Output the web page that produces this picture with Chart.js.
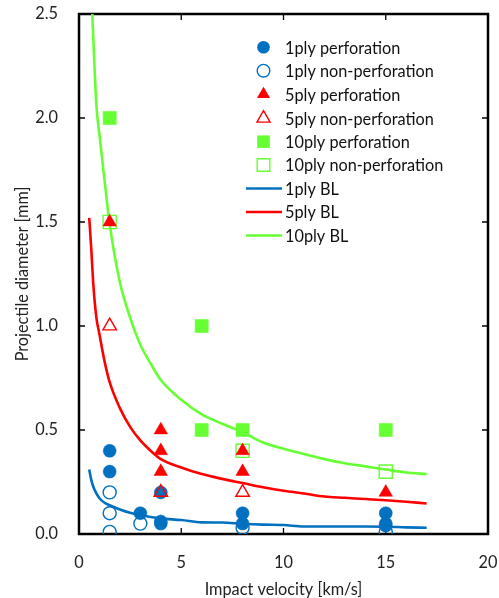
<!DOCTYPE html>
<html>
<head>
<meta charset="utf-8">
<script src="https://cdn.jsdelivr.net/npm/chart.js@4.4.0/dist/chart.umd.min.js"></script>
<style>
  html, body { margin: 0; padding: 0; background: #fff; }
  #wrap { width: 499px; height: 598px; position: relative; }
</style>
</head>
<body>
<div id="wrap"><canvas id="chart"></canvas></div>
<script>
const BLUE = "#0070C0";
const RED = "#FF0000";
const GREEN = "#66FF33";
const FONT = "Lato, 'Liberation Sans', sans-serif";
const FONT_SIZE = 16.3;

const X_TICKS = [0, 5, 10, 15, 20];
const Y_TICKS = [0, 0.5, 1.0, 1.5, 2.0, 2.5];

// measured points (velocity km/s, diameter mm)
const ONE_PERF_X = [1.5, 1.5, 3, 4, 4, 4, 8, 8, 15, 15, 15];
const ONE_PERF_Y = [0.4, 0.3, 0.1, 0.2, 0.06, 0.05, 0.1, 0.05, 0.1, 0.05, 0.04];
const ONE_NON_X = [1.5, 1.5, 1.5, 3, 8, 15];
const ONE_NON_Y = [0.2, 0.1, 0.01, 0.05, 0.03, 0.01];
const FIVE_PERF_X = [1.5, 4, 4, 4, 8, 8, 15];
const FIVE_PERF_Y = [1.5, 0.5, 0.4, 0.3, 0.4, 0.3, 0.2];
const FIVE_NON_X = [1.5, 4, 8];
const FIVE_NON_Y = [1.0, 0.2, 0.2];
const TEN_PERF_X = [1.5, 6, 6, 8, 15];
const TEN_PERF_Y = [2.0, 1.0, 0.5, 0.5, 0.5];
const TEN_NON_X = [1.5, 8, 15];
const TEN_NON_Y = [1.5, 0.4, 0.3];

// ballistic limit curves
const BL_X = [0.5, 0.6, 0.7, 0.85, 1, 1.25, 1.5, 2, 2.5, 3, 3.5, 4, 5, 6, 7, 8, 9, 10, 11, 12, 13, 14, 15, 16, 17];
const BL_ONE = [0.31, 0.26, 0.227, 0.195, 0.172, 0.15, 0.138, 0.118, 0.102, 0.091, 0.082, 0.075, 0.067, 0.056, 0.055, 0.049, 0.045, 0.043, 0.036, 0.036, 0.036, 0.036, 0.035, 0.032, 0.03];
const BL_FIVE = [1.52, 1.37, 1.2, 1.04, 0.96, 0.83, 0.73, 0.605, 0.515, 0.45, 0.4, 0.36, 0.32, 0.288, 0.265, 0.245, 0.225, 0.208, 0.195, 0.18, 0.174, 0.168, 0.162, 0.155, 0.147];
const BL_TEN = [2.95, 2.62, 2.38, 2.06, 1.92, 1.7, 1.49, 1.21, 1.04, 0.91, 0.82, 0.74, 0.645, 0.575, 0.53, 0.49, 0.44, 0.41, 0.385, 0.36, 0.34, 0.325, 0.31, 0.296, 0.288];

function pts(xs, ys) {
  return xs.map((x, i) => ({ x, y: ys[i] }));
}

function markerSet(label, xs, ys, style, color, filled, order) {
  const radius = style === "circle" ? 6.5 : style === "triangle" ? 7.8 : 9.3;
  return {
    type: "scatter",
    label,
    data: pts(xs, ys),
    pointStyle: style,
    pointRadius: radius,
    pointHoverRadius: radius,
    backgroundColor: filled ? color : "rgba(0,0,0,0)",
    borderColor: color,
    borderWidth: filled ? 0.5 : 1.4,
    order,
  };
}

function blLine(label, ys, color) {
  return {
    type: "line",
    label,
    data: pts(BL_X, ys),
    borderColor: color,
    backgroundColor: color,
    borderWidth: 2.6,
    pointRadius: 0,
    cubicInterpolationMode: "monotone",
    fill: false,
    order: 10,
  };
}

const datasets = [
  markerSet("1ply perforation", ONE_PERF_X, ONE_PERF_Y, "circle", BLUE, true, 6),
  markerSet("1ply non-perforation", ONE_NON_X, ONE_NON_Y, "circle", BLUE, false, 5),
  markerSet("5ply perforation", FIVE_PERF_X, FIVE_PERF_Y, "triangle", RED, true, 2),
  markerSet("5ply non-perforation", FIVE_NON_X, FIVE_NON_Y, "triangle", RED, false, 1),
  markerSet("10ply perforation", TEN_PERF_X, TEN_PERF_Y, "rect", GREEN, true, 4),
  markerSet("10ply non-perforation", TEN_NON_X, TEN_NON_Y, "rect", GREEN, false, 3),
  blLine("1ply BL", BL_ONE, BLUE),
  blLine("5ply BL", BL_FIVE, RED),
  blLine("10ply BL", BL_TEN, GREEN),
];

// box around the plot with inward ticks on all four sides
const framePlugin = {
  id: "frame",
  beforeDatasetsDraw(chart) {
    const { ctx, chartArea: a, scales } = chart;
    ctx.save();
    ctx.strokeStyle = "#000";
    ctx.lineWidth = 1.3;
    ctx.beginPath();
    for (const v of X_TICKS) {
      const px = scales.x.getPixelForValue(v);
      ctx.moveTo(px, a.top);
      ctx.lineTo(px, a.top + 6);
      ctx.moveTo(px, a.bottom);
      ctx.lineTo(px, a.bottom - 6);
    }
    for (const v of Y_TICKS) {
      const py = scales.y.getPixelForValue(v);
      ctx.moveTo(a.left, py);
      ctx.lineTo(a.left + 6, py);
      ctx.moveTo(a.right, py);
      ctx.lineTo(a.right - 6, py);
    }
    ctx.stroke();
    ctx.lineWidth = 2.5;
    ctx.strokeRect(a.left, a.top, a.right - a.left, a.bottom - a.top);
    ctx.restore();
  },
};

function drawMarker(ctx, style, cx, cy, color, filled) {
  ctx.beginPath();
  if (style === "circle") {
    ctx.arc(cx, cy, 6.3, 0, Math.PI * 2);
  } else if (style === "triangle") {
    const r = 7.6;
    ctx.moveTo(cx, cy - r);
    ctx.lineTo(cx + r * 0.866, cy + r * 0.5);
    ctx.lineTo(cx - r * 0.866, cy + r * 0.5);
    ctx.closePath();
  } else {
    ctx.rect(cx - 6.3, cy - 6.3, 12.6, 12.6);
  }
  if (filled) {
    ctx.fillStyle = color;
    ctx.fill();
  } else {
    ctx.strokeStyle = color;
    ctx.lineWidth = 1.4;
    ctx.stroke();
  }
}

const LEGEND_ROWS = [47.3, 70.7, 94.3, 118.3, 141.7, 165, 188.5, 212, 235.5];

const legendPlugin = {
  id: "insideLegend",
  afterDatasetsDraw(chart) {
    const { ctx } = chart;
    const items = chart.data.datasets;
    ctx.save();
    ctx.font = FONT_SIZE + "px " + FONT;
    ctx.textBaseline = "middle";
    ctx.textAlign = "left";
    items.forEach((ds, i) => {
      const y = LEGEND_ROWS[i];
      if (ds.type === "line") {
        ctx.strokeStyle = ds.borderColor;
        ctx.lineWidth = 2.6;
        ctx.beginPath();
        ctx.moveTo(246, y);
        ctx.lineTo(282, y);
        ctx.stroke();
      } else {
        const filled = ds.backgroundColor !== "rgba(0,0,0,0)";
        drawMarker(ctx, ds.pointStyle, 263.5, y, ds.borderColor, filled);
      }
      ctx.fillStyle = "#111";
      ctx.fillText(ds.label, 285, y + 1);
    });
    ctx.restore();
  },
};

new Chart(document.getElementById("chart"), {
  type: "scatter",
  data: { datasets },
  plugins: [framePlugin, legendPlugin],
  options: {
    responsive: true,
    maintainAspectRatio: false,
    animation: false,
    layout: { padding: { top: 14, right: 11, left: 0, bottom: 0 } },
    plugins: {
      legend: { display: false },
      tooltip: { enabled: false },
    },
    scales: {
      x: {
        type: "linear",
        min: 0,
        max: 20,
        afterFit: (s) => { s.height = 64; s.paddingLeft = 0; s.paddingRight = 0; },
        afterBuildTicks: (s) => { s.ticks = X_TICKS.map((v) => ({ value: v })); },
        grid: { display: false, drawTicks: false },
        border: { display: false },
        ticks: {
          padding: 19,
          color: "#222",
          font: { family: FONT, size: FONT_SIZE },
          maxRotation: 0,
        },
        title: {
          display: true,
          text: "Impact velocity [km/s]",
          color: "#222",
          font: { family: FONT, size: FONT_SIZE },
          padding: { top: 0, bottom: -2 },
        },
      },
      y: {
        type: "linear",
        min: 0,
        max: 2.5,
        afterFit: (s) => { s.width = 79; s.paddingTop = 0; s.paddingBottom = 0; },
        afterBuildTicks: (s) => { s.ticks = Y_TICKS.map((v) => ({ value: v })); },
        grid: { display: false, drawTicks: false },
        border: { display: false },
        ticks: {
          padding: 21,
          color: "#222",
          font: { family: FONT, size: FONT_SIZE },
          callback: (v) => Number(v).toFixed(1),
        },
        title: {
          display: true,
          text: "Projectile diameter [mm]",
          color: "#222",
          font: { family: FONT, size: FONT_SIZE },
          padding: { top: 13, bottom: 0 },
        },
      },
    },
  },
});
</script>
</body>
</html>
